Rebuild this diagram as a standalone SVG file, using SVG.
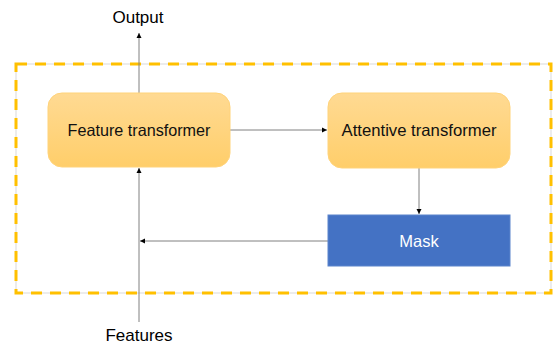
<svg xmlns="http://www.w3.org/2000/svg" width="553" height="348" viewBox="0 0 553 348">
<style>
.lbl{font-family:"Liberation Sans",Arial,sans-serif;font-size:17px;fill:#000}
.box{font-family:"Liberation Sans",Arial,sans-serif;font-size:16.5px;fill:#111}
.conn{stroke:#808080;stroke-width:1;fill:none;marker-end:url(#ah)}
.tf{fill:url(#g);stroke:#FFD37A;stroke-width:1}
</style>
<defs>
<linearGradient id="g" x1="0" y1="0" x2="0" y2="1">
<stop offset="0" stop-color="#FFDA93"/>
<stop offset="1" stop-color="#FFCE6A"/>
</linearGradient>
<marker id="ah" markerWidth="6" markerHeight="6" refX="5" refY="3" orient="auto" markerUnits="userSpaceOnUse">
<path d="M0,0.5 L5,3 L0,5.5 z" fill="#000"/>
</marker>
</defs>
<g id="container">
<rect x="16" y="64" width="535" height="229" fill="none" stroke="#d9d9d9" stroke-width="1"/>
<rect x="16" y="64" width="535" height="229" fill="none" stroke="#FFC000" stroke-width="3" stroke-dasharray="11,8"/>
</g>
<g id="connectors">
<line class="conn" x1="139" y1="93" x2="139" y2="33"/>
<line class="conn" x1="230" y1="130" x2="327" y2="130"/>
<line class="conn" x1="419" y1="168" x2="419" y2="214"/>
<line class="conn" x1="328" y1="241" x2="140" y2="241"/>
<line class="conn" x1="139" y1="322" x2="139" y2="168"/>
</g>
<g id="feature-transformer">
<rect class="tf" x="48" y="93" width="182" height="74" rx="14"/>
<text class="box" x="139" y="136" text-anchor="middle" textLength="143" lengthAdjust="spacingAndGlyphs">Feature transformer</text>
</g>
<g id="attentive-transformer">
<rect class="tf" x="328" y="93" width="182" height="75" rx="14"/>
<text class="box" x="419" y="136" text-anchor="middle" textLength="155" lengthAdjust="spacingAndGlyphs">Attentive transformer</text>
</g>
<g id="mask">
<rect x="328" y="215" width="182" height="51" fill="#4472C4" stroke="#5B84CC" stroke-width="1"/>
<text class="box" x="419" y="247" text-anchor="middle" style="fill:#fff">Mask</text>
</g>
<g id="output">
<text class="lbl" x="138" y="23" text-anchor="middle">Output</text>
</g>
<g id="features">
<text class="lbl" x="139" y="341" text-anchor="middle">Features</text>
</g>
</svg>
